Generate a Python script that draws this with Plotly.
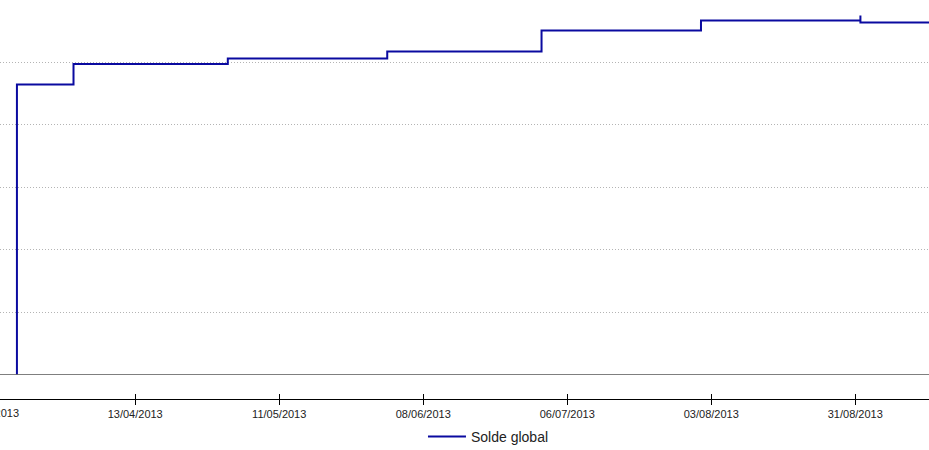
import pandas as pd
import plotly.graph_objects as go

# Solde global (step series)
dates = [
    '2013-03-21', '2013-03-21', '2013-04-01', '2013-05-01', '2013-06-01',
    '2013-07-01', '2013-08-01', '2013-09-01', '2013-09-01', '2013-09-20',
]
solde = [0, 4647, 4976, 5064, 5176, 5513, 5673, 5753, 5641, 5641]

# axis settings
x_range = ['2013-03-17 17:00', '2013-09-14 08:00']
y_range = [0, 6000]
tick0 = '2013-03-16'
tick_step_days = 28

line_color = '#0a0aa0'
font_family = 'Arial, Liberation Sans, sans-serif'

fig = go.Figure()
fig.add_trace(go.Scatter(
    x=dates, y=solde, mode='lines', name='Solde global',
    line=dict(color=line_color, width=2, shape='hv'),
    xaxis='x', yaxis='y',
))
# invisible trace so the overlay axis (upward half of ticks) gets drawn
fig.add_trace(go.Scatter(
    x=[dates[0]], y=[solde[0]], mode='lines', showlegend=False,
    hoverinfo='skip', line=dict(width=0), xaxis='x3', yaxis='y',
))

common_x = dict(
    type='date', range=x_range, tick0=tick0, automargin=False,
    dtick=tick_step_days * 86400000, showgrid=False, zeroline=False,
)

fig.update_layout(
    width=929, height=450,
    margin=dict(l=0, r=0, t=0, b=51, autoexpand=False),
    plot_bgcolor='white', paper_bgcolor='white',
    font=dict(family=font_family, color='#222222'),
    xaxis=dict(
        **common_x, anchor='free', position=0,
        showline=True, linecolor='black', linewidth=1,
        ticks='outside', ticklen=5, tickcolor='black', tickwidth=1,
        tickformat='%d/%m/%Y', tickfont=dict(size=11, color='#222222'),
    ),
    xaxis3=dict(
        **common_x, overlaying='x', anchor='free', position=0,
        showline=False, ticks='inside', ticklen=5, tickcolor='black',
        tickwidth=1, showticklabels=False,
    ),
    yaxis=dict(
        domain=[24.5 / 399, 1], range=y_range, dtick=1000, automargin=False,
        showgrid=True, gridcolor='#b4b4b4', griddash='1px,2px', gridwidth=1,
        showticklabels=False, zeroline=False, showline=False,
    ),
    showlegend=True,
    legend=dict(
        orientation='h', x=0.4553, xanchor='left', y=-0.095, yanchor='middle',
        itemwidth=38,
        font=dict(size=14, color='#222222'), bgcolor='rgba(0,0,0,0)',
    ),
)

# zero line of the balance
fig.add_shape(type='line', xref='paper', yref='y', x0=0, x1=1, y0=0, y1=0,
              line=dict(color='black', width=1))

# first tick label, partly off the left edge
r0 = pd.Timestamp(x_range[0])
r1 = pd.Timestamp(x_range[1])
t0 = pd.Timestamp(tick0)
frac = (t0 - r0) / (r1 - r0)
fig.add_annotation(
    text=t0.strftime('%d/%m/%Y'), xref='paper', yref='paper',
    x=frac, y=0, yshift=-6, xanchor='center', yanchor='top',
    showarrow=False, font=dict(size=11, color='#222222'),
)

# page has no body margin so the figure fills the window
fig.write_html('out.html', config={'displayModeBar': False},
               post_script="document.body.style.margin='0';")
